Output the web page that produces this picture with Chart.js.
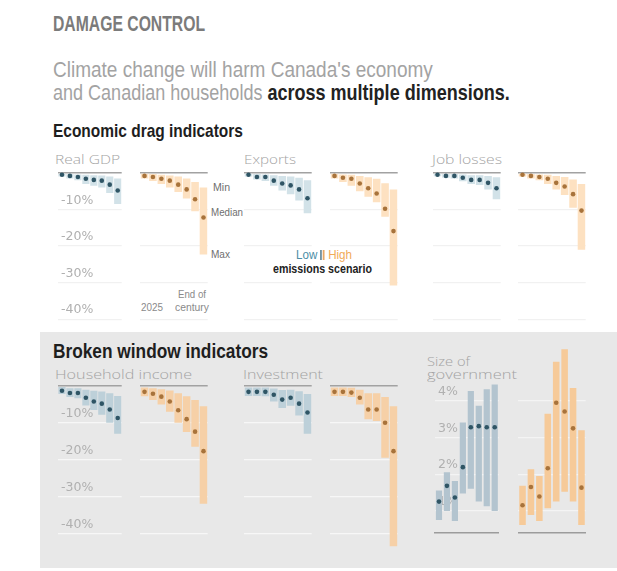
<!DOCTYPE html>
<html><head><meta charset="utf-8">
<script src="https://cdn.jsdelivr.net/npm/chart.js@4.4.1/dist/chart.umd.min.js"></script>
<style>
body{margin:0;width:617px;height:571px;background:#fff;position:relative;overflow:hidden;font-family:"Liberation Sans",Arial,sans-serif;}
.t{position:absolute;white-space:nowrap;line-height:1;transform-origin:0 0;}
.h{font-weight:bold;}
.p{font-family:"Open Sans",sans-serif;font-weight:300;color:#a3a3a3;font-size:13px;}
.s{color:#6f6f6f;font-size:10.5px;}
canvas{position:absolute;}
#gray{position:absolute;left:40px;top:332px;width:577px;height:236px;background:#e8e8e8;}
</style></head><body>
<div id="gray"></div>
<div class="t h" data-w="152" style="left:53px;top:13px;font-size:22px;color:#7b7b7b">DAMAGE CONTROL</div>
<div class="t" data-w="380" style="left:53px;top:58.5px;font-size:22.5px;color:#a3a3a3">Climate change will harm Canada's economy</div>
<div class="t" data-w="457" style="left:53px;top:82px;font-size:22.5px;color:#a3a3a3">and Canadian households <b style="color:#222">across multiple dimensions.</b></div>
<div class="t h" data-w="190" style="left:53px;top:120.5px;font-size:19px;color:#1e1e1e">Economic drag indicators</div>
<div class="t h" data-w="215" style="left:53px;top:341px;font-size:20px;color:#1e1e1e">Broken window indicators</div>

<div class="t p" data-w="65" style="left:55px;top:153px">Real GDP</div>
<div class="t p" data-w="52" style="left:244px;top:153px">Exports</div>
<div class="t p" data-w="70" style="left:432px;top:153px">Job losses</div>
<div class="t p" data-w="137" style="left:55px;top:368px">Household income</div>
<div class="t p" data-w="80" style="left:243px;top:368px">Investment</div>
<div class="t p" data-w="43" style="left:427px;top:355px">Size of</div>
<div class="t p" data-w="90" style="left:427px;top:368px">government</div>

<div class="t s" data-w="17" style="left:213px;top:182px">Min</div>
<div class="t s" data-w="32" style="left:211px;top:207px">Median</div>
<div class="t s" data-w="19" style="left:211px;top:249px">Max</div>
<div class="t s" data-w="22" style="left:141px;top:303px;font-size:10px;color:#8a8a8a">2025</div>
<div class="t s" data-w="28" style="left:178px;top:290px;font-size:10px;color:#8a8a8a">End of</div>
<div class="t s" data-w="34" style="left:175px;top:303px;font-size:10px;color:#8a8a8a">century</div>

<div class="t" data-w="56" style="left:296px;top:248px;font-size:13px"><span style="color:#4b8ea6">Low</span> <span style="display:inline-block;width:2px;height:10px;background:#6f8f9e;vertical-align:-1px"></span><span style="display:inline-block;width:2px;height:10px;background:#e8a866;vertical-align:-1px;margin-left:1px"></span> <span style="color:#f1a957">High</span></div>
<div class="t h" data-w="99" style="left:273px;top:263px;font-size:12.5px;color:#222">emissions scenario</div>

<script>
// ---------- DATA ----------
const categories = ['2025','2030','2040','2050','2060','2070','2080','2100'];

// Real GDP (% change)
const gdpLowMedian  = [-0.5,-0.8,-1.1,-1.6,-1.9,-2.1,-3.2,-4.8];
const gdpLowMin     = [-0.2,-0.3,-0.4,-0.5,-0.6,-0.7,-1.0,-1.5];
const gdpLowMax     = [-1.0,-1.5,-2.0,-3.0,-3.5,-4.0,-5.5,-8.5];
const gdpHighMedian = [-0.8,-1.1,-1.6,-2.1,-3.2,-4.5,-7.2,-12.2];
const gdpHighMin    = [-0.2,-0.3,-0.5,-0.7,-1.0,-1.5,-2.5,-4.0];
const gdpHighMax    = [-1.5,-2.2,-3.0,-4.0,-5.2,-7.0,-10.5,-22.3];

// Exports
const expLowMedian  = [-0.5,-1.1,-1.1,-2.1,-2.9,-3.4,-4.5,-6.9];
const expLowMin     = [-0.2,-0.3,-0.4,-0.6,-0.8,-1.0,-1.3,-2.0];
const expLowMax     = [-1.0,-1.8,-2.2,-3.5,-4.8,-5.8,-7.5,-11.0];
const expHighMedian = [-0.8,-1.3,-1.6,-2.9,-4.2,-5.6,-9.8,-15.9];
const expHighMin    = [-0.2,-0.4,-0.5,-0.8,-1.2,-1.6,-2.8,-4.5];
const expHighMax    = [-1.5,-2.5,-3.5,-5.0,-6.5,-8.0,-12.0,-30.8];

// Job losses
const jobLowMedian  = [-0.5,-0.8,-0.8,-1.3,-1.9,-1.9,-2.7,-4.2];
const jobLowMin     = [-0.2,-0.3,-0.3,-0.4,-0.6,-0.6,-0.8,-1.2];
const jobLowMax     = [-0.9,-1.3,-1.5,-2.3,-3.0,-3.3,-4.5,-7.2];
const jobHighMedian = [-0.5,-0.8,-1.1,-1.6,-2.7,-3.7,-5.8,-10.3];
const jobHighMin    = [-0.2,-0.3,-0.4,-0.5,-0.8,-1.1,-1.8,-3.0];
const jobHighMax    = [-1.0,-1.5,-2.0,-3.0,-4.5,-6.0,-9.5,-21.0];

// Household income
const hhLowMedian  = [-1.3,-1.9,-1.9,-3.2,-4.2,-4.8,-6.4,-8.7];
const hhLowMin     = [-0.3,-0.6,-0.6,-1.0,-1.3,-1.5,-2.0,-2.7];
const hhLowMax     = [-2.2,-3.0,-3.3,-5.3,-6.5,-7.8,-10.0,-13.0];
const hhHighMedian = [-1.6,-2.1,-2.9,-4.2,-6.6,-9.0,-12.4,-17.7];
const hhHighMin    = [-0.4,-0.6,-0.9,-1.2,-2.0,-2.8,-3.8,-5.5];
const hhHighMax    = [-2.8,-3.8,-5.0,-7.0,-10.0,-12.5,-16.5,-32.0];

// Investment
const invLowMedian  = [-1.6,-1.6,-1.6,-2.4,-3.7,-3.2,-4.8,-7.2];
const invLowMin     = [-0.4,-0.4,-0.4,-0.7,-1.1,-1.0,-1.4,-2.2];
const invLowMax     = [-2.7,-2.7,-2.8,-4.2,-6.0,-5.4,-8.0,-13.0];
const invHighMedian = [-1.6,-1.6,-1.8,-3.2,-6.4,-6.4,-10.0,-17.7];
const invHighMin    = [-0.4,-0.4,-0.5,-1.0,-2.0,-2.0,-3.0,-5.5];
const invHighMax    = [-2.7,-2.7,-3.0,-5.0,-9.0,-9.5,-19.5,-43.5];

// Size of government (% points)
const govLowMedian  = [1.25,1.68,1.36,2.19,3.28,3.31,3.28,3.28];
const govLowMin     = [0.75,0.99,0.72,1.47,1.60,1.25,1.12,0.99];
const govLowMax     = [1.55,2.05,1.81,3.41,4.27,3.87,4.32,4.45];
const govHighMedian = [1.15,1.65,1.39,2.16,3.95,3.71,3.25,1.63];
const govHighMin    = [0.61,0.88,0.72,1.07,1.25,1.52,1.25,0.61];
const govHighMax    = [1.68,2.13,1.95,3.65,5.07,5.41,4.35,3.20];

const pctTicks = [-10,-20,-30,-40];
const govTicks = [1,2,3,4];

// ---------- TEXT FITTING ----------
document.querySelectorAll('[data-w]').forEach(el => {
  const w = el.getBoundingClientRect().width;
  const sx = parseFloat(el.dataset.w) / w;
  el.style.transform = 'scaleX(' + sx.toFixed(3) + ')';
});

// ---------- DRAWING ----------
const BLUE_DOT = '#2f5565', ORANGE_DOT = '#a8733b';

function makeChart(box, med, mn, mx, o) {
  const c = document.createElement('canvas');
  c.width = box[2]; c.height = box[3];
  c.style.left = box[0] + 'px'; c.style.top = box[1] + 'px';
  document.body.appendChild(c);
  return new Chart(c, {
    data: {
      labels: categories,
      datasets: [
        { type: 'line', data: med, showLine: false, pointRadius: 2.3, pointHoverRadius: 2.3,
          pointBackgroundColor: o.dot, pointBorderWidth: 0, order: 0 },
        { type: 'bar', data: categories.map((_, i) => [mn[i], mx[i]]), backgroundColor: o.bar,
          borderWidth: 0, barPercentage: o.barPct, categoryPercentage: 1, order: 1 }
      ]
    },
    options: {
      responsive: false, animation: false, devicePixelRatio: 1,
      layout: { padding: 0 },
      plugins: { legend: { display: false }, tooltip: { enabled: false } },
      scales: {
        x: { type: 'category', offset: true, display: !!o.baseLine,
             grid: { display: false, drawTicks: false }, ticks: { display: false },
             border: { display: !!o.baseLine, color: '#9c9c9c', width: 1.5 } },
        y: { min: o.min, max: o.max, position: 'left',
             afterBuildTicks: s => { s.ticks = o.ticks.map(v => ({ value: v })); },
             afterFit: s => { s.paddingTop = 0; s.paddingBottom = 0; s.paddingLeft = 0; s.paddingRight = 0; },
             grid: { drawTicks: false, lineWidth: t => (t.tick && t.tick.value === 0) ? 1.5 : 1.2,
                     color: t => (t.tick && t.tick.value === 0) ? '#a2a2a2' : o.grid },
             border: { display: false },
             ticks: { display: !!o.labels, mirror: true, padding: 3, labelOffset: -9,
                      color: '#b0b0b0', font: { family: 'DejaVu Sans', size: 12.5 },
                      callback: v => (v === 0 ? '' : v + '%') } }
      }
    }
  });
}

const topRow = { min: -40.4, max: 1, ticks: [0, ...pctTicks], grid: '#f1f1f1', barPct: 0.9 };
const botRow = { min: -45, max: 1, ticks: [0, ...pctTicks], grid: '#f7f7f7', barPct: 0.9 };
const TOP = [167, 156], BOT = [380, 174], W = 72;

const bLightT = '#d2e2e8', oLightT = '#fde1c1';
const bLightB = '#bdd0d9', oLightB = '#f6d0a7';

makeChart([52, TOP[0], W, TOP[1]], gdpLowMedian, gdpLowMin, gdpLowMax, {...topRow, bar: bLightT, dot: BLUE_DOT, labels: true});
makeChart([138, TOP[0], W, TOP[1]], gdpHighMedian, gdpHighMin, gdpHighMax, {...topRow, bar: oLightT, dot: ORANGE_DOT});
makeChart([242, TOP[0], W, TOP[1]], expLowMedian, expLowMin, expLowMax, {...topRow, bar: bLightT, dot: BLUE_DOT});
makeChart([328, TOP[0], W, TOP[1]], expHighMedian, expHighMin, expHighMax, {...topRow, bar: oLightT, dot: ORANGE_DOT});
makeChart([431, TOP[0], W, TOP[1]], jobLowMedian, jobLowMin, jobLowMax, {...topRow, bar: bLightT, dot: BLUE_DOT});
makeChart([516, TOP[0], W, TOP[1]], jobHighMedian, jobHighMin, jobHighMax, {...topRow, bar: oLightT, dot: ORANGE_DOT});

makeChart([52, BOT[0], W, BOT[1]], hhLowMedian, hhLowMin, hhLowMax, {...botRow, bar: bLightB, dot: BLUE_DOT, labels: true});
makeChart([138, BOT[0], W, BOT[1]], hhHighMedian, hhHighMin, hhHighMax, {...botRow, bar: oLightB, dot: ORANGE_DOT});
makeChart([242, BOT[0], W, BOT[1]], invLowMedian, invLowMin, invLowMax, {...botRow, bar: bLightB, dot: BLUE_DOT});
makeChart([328, BOT[0], W, BOT[1]], invHighMedian, invHighMin, invHighMax, {...botRow, bar: oLightB, dot: ORANGE_DOT});

const govRow = { min: 0.4, max: 5.6, ticks: govTicks, grid: '#f4f4f4', barPct: 0.78, baseLine: true };
makeChart([429, 340, W, 195], govLowMedian, govLowMin, govLowMax, {...govRow, bar: '#b3c4cf', dot: BLUE_DOT, labels: true});
makeChart([516, 340, W, 195], govHighMedian, govHighMin, govHighMax, {...govRow, bar: '#f6ca99', dot: ORANGE_DOT});
</script>
</body></html>
